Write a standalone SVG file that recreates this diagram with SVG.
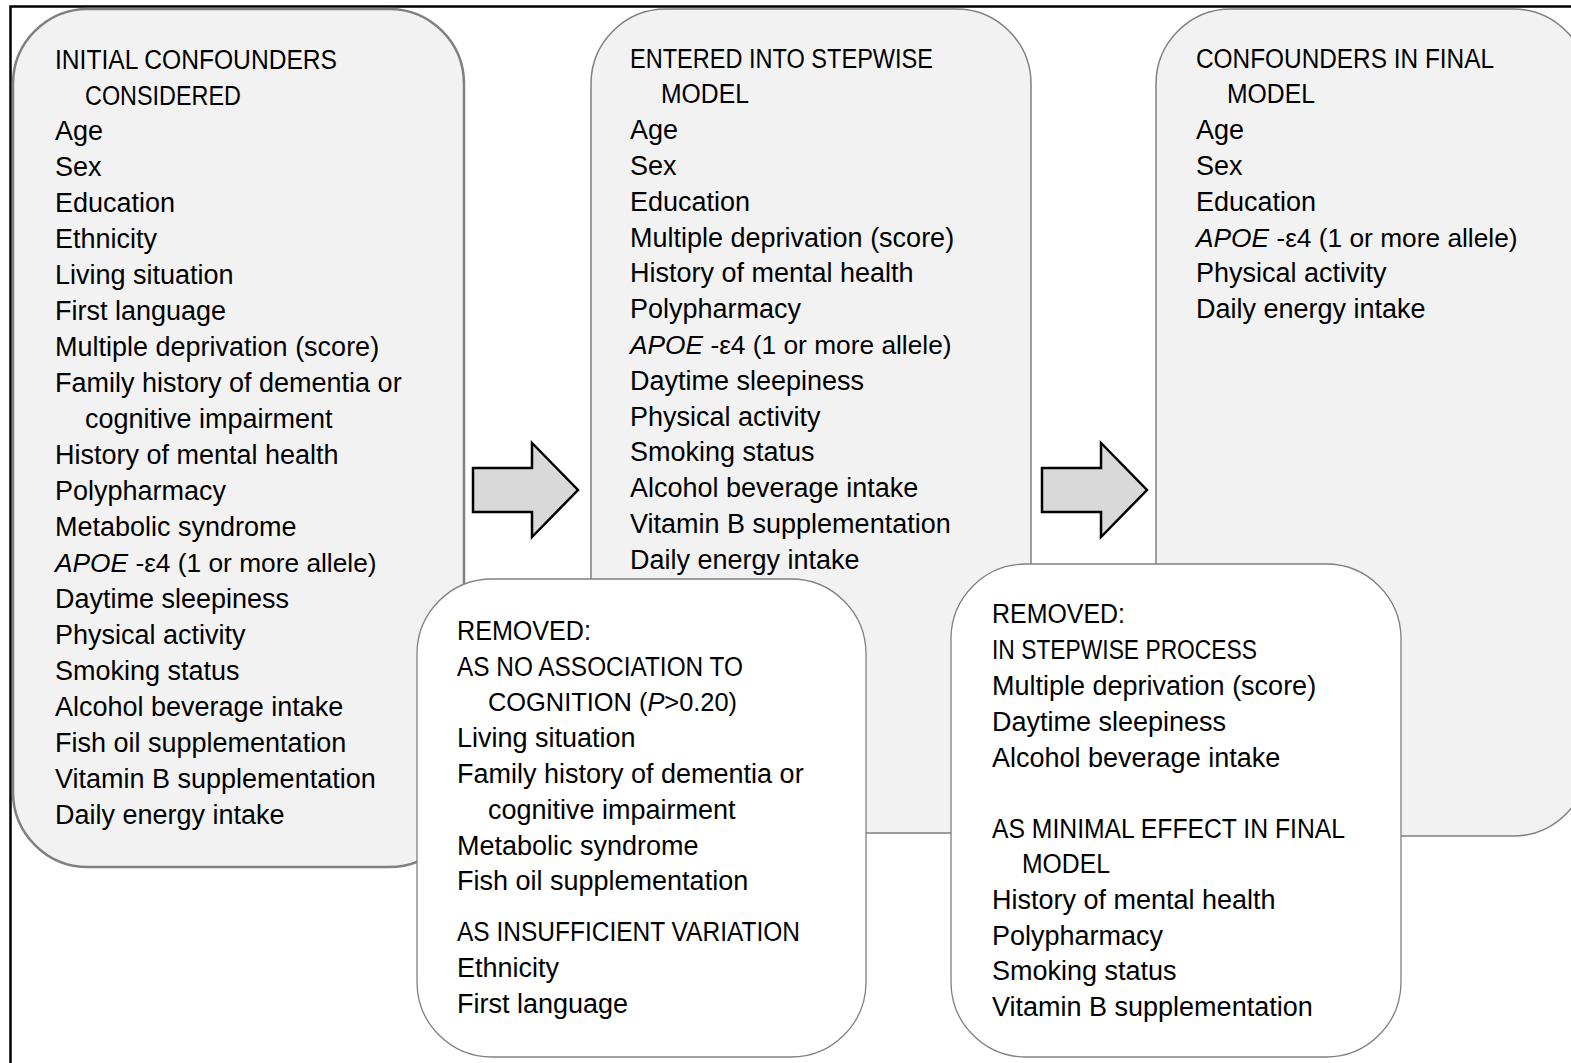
<svg xmlns="http://www.w3.org/2000/svg" width="1571" height="1063" viewBox="0 0 1571 1063">
<style>
  .t { font-family: "Liberation Sans", Arial, sans-serif; font-size: 27px; fill: #000; }
  .apoe { font-size: 26.3px; }
  .gray { fill: #f2f2f2; stroke: #808080; stroke-width: 1.5; }
  .white { fill: #ffffff; stroke: #808080; stroke-width: 1.3; }
  .arrow { fill: #d9d9d9; stroke: #000; stroke-width: 2.5; stroke-linejoin: miter; }
  .i { font-style: italic; }
</style>
<rect x="0" y="0" width="1571" height="1063" fill="#ffffff"/>
<path d="M10.5,1075 V6.5 H1585" fill="none" stroke="#000" stroke-width="2.5"/>

<g id="node-initial">
  <rect class="gray" x="13" y="9" width="451" height="858" rx="75" ry="75" style="stroke-width:2.5"/>
  <text class="t" x="55" y="68.5" textLength="282" lengthAdjust="spacingAndGlyphs">INITIAL CONFOUNDERS</text>
  <text class="t" x="85" y="104.5" textLength="156" lengthAdjust="spacingAndGlyphs">CONSIDERED</text>
  <text class="t" x="55" y="140.4">Age</text>
  <text class="t" x="55" y="176.4">Sex</text>
  <text class="t" x="55" y="212.3">Education</text>
  <text class="t" x="55" y="248.3">Ethnicity</text>
  <text class="t" x="55" y="284.2">Living situation</text>
  <text class="t" x="55" y="320.2">First language</text>
  <text class="t" x="55" y="356.1">Multiple deprivation (score)</text>
  <text class="t" x="55" y="392.1">Family history of dementia or</text>
  <text class="t" x="85" y="428.0">cognitive impairment</text>
  <text class="t" x="55" y="464.0">History of mental health</text>
  <text class="t" x="55" y="499.9">Polypharmacy</text>
  <text class="t" x="55" y="535.9">Metabolic syndrome</text>
  <text class="t apoe" x="55" y="571.8"><tspan class="i">APOE</tspan> -ε4 (1 or more allele)</text>
  <text class="t" x="55" y="607.8">Daytime sleepiness</text>
  <text class="t" x="55" y="643.7">Physical activity</text>
  <text class="t" x="55" y="679.7">Smoking status</text>
  <text class="t" x="55" y="715.6">Alcohol beverage intake</text>
  <text class="t" x="55" y="751.6">Fish oil supplementation</text>
  <text class="t" x="55" y="787.5">Vitamin B supplementation</text>
  <text class="t" x="55" y="823.5">Daily energy intake</text>
</g>

<g id="node-stepwise">
  <rect class="gray" x="591" y="9" width="440" height="824" rx="75" ry="75"/>
  <text class="t" x="630" y="67.5" textLength="303" lengthAdjust="spacingAndGlyphs">ENTERED INTO STEPWISE</text>
  <text class="t" x="661" y="103.3" textLength="88" lengthAdjust="spacingAndGlyphs">MODEL</text>
  <text class="t" x="630" y="139.1">Age</text>
  <text class="t" x="630" y="174.9">Sex</text>
  <text class="t" x="630" y="210.7">Education</text>
  <text class="t" x="630" y="246.5">Multiple deprivation (score)</text>
  <text class="t" x="630" y="282.3">History of mental health</text>
  <text class="t" x="630" y="318.1">Polypharmacy</text>
  <text class="t apoe" x="630" y="353.9"><tspan class="i">APOE</tspan> -ε4 (1 or more allele)</text>
  <text class="t" x="630" y="389.7">Daytime sleepiness</text>
  <text class="t" x="630" y="425.5">Physical activity</text>
  <text class="t" x="630" y="461.3">Smoking status</text>
  <text class="t" x="630" y="497.1">Alcohol beverage intake</text>
  <text class="t" x="630" y="532.9">Vitamin B supplementation</text>
  <text class="t" x="630" y="568.7">Daily energy intake</text>
</g>

<g id="node-final">
  <rect class="gray" x="1156" y="9" width="432" height="827" rx="75" ry="75"/>
  <text class="t" x="1196" y="67.5" textLength="298" lengthAdjust="spacingAndGlyphs">CONFOUNDERS IN FINAL</text>
  <text class="t" x="1227" y="103.3" textLength="88" lengthAdjust="spacingAndGlyphs">MODEL</text>
  <text class="t" x="1196" y="139.1">Age</text>
  <text class="t" x="1196" y="174.9">Sex</text>
  <text class="t" x="1196" y="210.7">Education</text>
  <text class="t apoe" x="1196" y="246.5"><tspan class="i">APOE</tspan> -ε4 (1 or more allele)</text>
  <text class="t" x="1196" y="282.3">Physical activity</text>
  <text class="t" x="1196" y="318.1">Daily energy intake</text>
</g>

<g id="connectors">
  <polygon class="arrow" points="473,468 532,468 532,443 578,490 532,537 532,512 473,512"/>
  <polygon class="arrow" points="1042,468 1101,468 1101,443 1147,490 1101,537 1101,512 1042,512"/>
</g>

<g id="node-removed-1">
  <rect class="white" x="417" y="579" width="449" height="478" rx="75" ry="75"/>
  <text class="t" x="457" y="640" textLength="134" lengthAdjust="spacingAndGlyphs">REMOVED:</text>
  <text class="t" x="457" y="675.5" textLength="286" lengthAdjust="spacingAndGlyphs">AS NO ASSOCIATION TO</text>
  <text class="t" x="488" y="711.3" style="font-size:25.4px">COGNITION (<tspan class="i">P</tspan>&gt;0.20)</text>
  <text class="t" x="457" y="747.1">Living situation</text>
  <text class="t" x="457" y="782.9">Family history of dementia or</text>
  <text class="t" x="488" y="818.7">cognitive impairment</text>
  <text class="t" x="457" y="854.5">Metabolic syndrome</text>
  <text class="t" x="457" y="890.3">Fish oil supplementation</text>
  <text class="t" x="457" y="941" textLength="343" lengthAdjust="spacingAndGlyphs">AS INSUFFICIENT VARIATION</text>
  <text class="t" x="457" y="976.8">Ethnicity</text>
  <text class="t" x="457" y="1012.6">First language</text>
</g>

<g id="node-removed-2">
  <rect class="white" x="951" y="564" width="450" height="493" rx="75" ry="75"/>
  <text class="t" x="992" y="623" textLength="133" lengthAdjust="spacingAndGlyphs">REMOVED:</text>
  <text class="t" x="992" y="659" textLength="265" lengthAdjust="spacingAndGlyphs">IN STEPWISE PROCESS</text>
  <text class="t" x="992" y="695">Multiple deprivation (score)</text>
  <text class="t" x="992" y="731">Daytime sleepiness</text>
  <text class="t" x="992" y="767">Alcohol beverage intake</text>
  <text class="t" x="992" y="838" textLength="353" lengthAdjust="spacingAndGlyphs">AS MINIMAL EFFECT IN FINAL</text>
  <text class="t" x="1022" y="873" textLength="88" lengthAdjust="spacingAndGlyphs">MODEL</text>
  <text class="t" x="992" y="908.8">History of mental health</text>
  <text class="t" x="992" y="944.6">Polypharmacy</text>
  <text class="t" x="992" y="980.4">Smoking status</text>
  <text class="t" x="992" y="1016.2">Vitamin B supplementation</text>
</g>
</svg>
